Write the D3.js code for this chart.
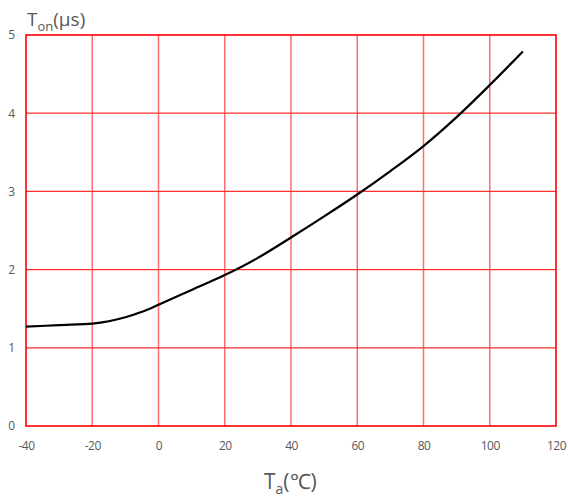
<!DOCTYPE html>
<html><head><meta charset="utf-8">
<script src="https://cdn.jsdelivr.net/npm/d3@7/dist/d3.min.js"></script>
<style>body{margin:0;background:#fff}svg{display:block}</style>
</head><body>
<script>
const temps = [-40,-30,-20,-15,-10,-5,0,10,20,30,40,50,60,70,80,90,100,110];
const tonValues = [1.27,1.29,1.31,1.34,1.39,1.46,1.55,1.74,1.93,2.15,2.41,2.68,2.96,3.26,3.58,3.95,4.36,4.79];
const xTicks = [-40,-20,0,20,40,60,80,100,120];
const yTicks = [0,1,2,3,4,5];

const W=568,H=500, L=26, R=556, T=35, B=426;
const svg=d3.select("body").append("svg").attr("width",W).attr("height",H);
const x=d3.scaleLinear().domain([-40,120]).range([L,R]);
const y=d3.scaleLinear().domain([0,5]).range([B,T]);
const font="'Open Sans', 'Liberation Sans', sans-serif";

// vertical grid
svg.append("g").selectAll("line").data(xTicks.slice(1,-1)).join("line")
  .attr("x1",d=>x(d)).attr("x2",d=>x(d)).attr("y1",T).attr("y2",B)
  .attr("stroke","#ff6e6e").attr("stroke-width",1.5);
// horizontal grid
svg.append("g").selectAll("line").data(yTicks.slice(1,-1)).join("line")
  .attr("x1",L).attr("x2",R).attr("y1",d=>y(d)).attr("y2",d=>y(d))
  .attr("stroke","#ff3030").attr("stroke-width",1.2);
// border
svg.append("rect").attr("x",L).attr("y",T).attr("width",R-L).attr("height",B-T)
  .attr("fill","none").attr("stroke","#ff0000").attr("stroke-width",1.6);

// axes labels via d3 axes
const xa=svg.append("g").attr("transform",`translate(0,${B+15})`)
  .call(d3.axisBottom(x).tickValues(xTicks).tickSize(0).tickPadding(0).tickFormat(d=>String(d)));
xa.select(".domain").remove();
xa.selectAll("text").attr("fill","#595959").style("font-family",font).style("font-size","12px").style("letter-spacing","-0.5px");

const ya=svg.append("g").attr("transform",`translate(15,0)`)
  .call(d3.axisLeft(y).tickValues(yTicks).tickSize(0).tickPadding(0).tickFormat(d=>String(d)));
ya.select(".domain").remove();
ya.selectAll("text").attr("fill","#595959").style("font-family",font).style("font-size","12px");

// curve
svg.append("path").datum(temps.map((t,i)=>[t,tonValues[i]]))
  .attr("fill","none").attr("stroke","#000").attr("stroke-width",2.2)
  .attr("d",d3.line().x(d=>x(d[0])).y(d=>y(d[1])).curve(d3.curveCatmullRom.alpha(0.5)));

// y title
const yt=svg.append("text").attr("x",27).attr("y",26).attr("fill","#595959")
  .style("font-family",font).style("font-size","19px");
yt.append("tspan").text("T");
yt.append("tspan").attr("dy",5).style("font-size","13px").text("on");
yt.append("tspan").attr("dy",-5).text("(μs)");

// x title
const xt=svg.append("text").attr("x",264).attr("y",489).attr("fill","#595959")
  .style("font-family",font).style("font-size","21px");
xt.append("tspan").text("T");
xt.append("tspan").attr("dy",5).style("font-size","14px").text("a");
xt.append("tspan").attr("dy",-5).text("(℃)");
</script>
</body></html>
